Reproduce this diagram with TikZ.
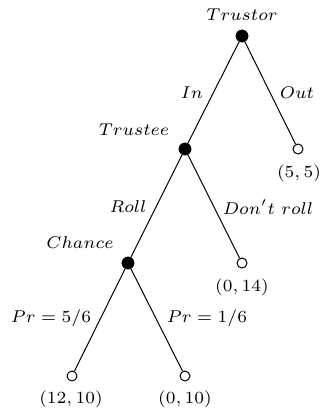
\documentclass[tikz,border=0pt]{standalone}
\begin{document}
\begin{tikzpicture}[x=0.5pt,y=-0.5pt,
  dec/.style={circle,fill=black,draw=black,inner sep=0pt,minimum size=6pt},
  term/.style={circle,fill=white,draw=black,line width=0.5pt,inner sep=0pt,minimum size=5pt},
  edge/.style={draw=black,line width=0.5pt},
  lbl/.style={inner sep=0pt,font=\fontsize{7}{8}\selectfont,scale=1.22,transform shape}]
\useasboundingbox (0,0) rectangle (320,412);
% decision nodes
\node[dec] (trustor) at (242,36) {};
\node[dec] (trustee) at (185,149) {};
\node[dec] (chance) at (128,263) {};
% terminals
\node[term] (out) at (298,149) {};
\node[term] (dont) at (242,263) {};
\node[term] (l1) at (72,376) {};
\node[term] (l2) at (185,376) {};
% edges
\draw[edge] (trustor) -- (trustee);
\draw[edge] (trustor) -- (out);
\draw[edge] (trustee) -- (chance);
\draw[edge] (trustee) -- (dont);
\draw[edge] (chance) -- (l1);
\draw[edge] (chance) -- (l2);
% player labels
\node[lbl] (tlab) at (242,15) {$Trustor$};
\node[lbl] (telab) at (134,130) {$Trustee$};
\node[lbl] (clab) at (80,243) {$Chance$};
% action labels
\node[lbl] (inlab) at (192,93) {$In$};
\node[lbl] (outlab) at (297,93) {$Out$};
\node[lbl] (rolllab) at (128,207) {$Roll$};
\node[lbl] (dontlab) at (268,207) {$Don't\ roll$};
\node[lbl] (p1lab) at (51,318) {$Pr=5/6$};
\node[lbl] (p2lab) at (207,318) {$Pr=1/6$};
% payoffs
\node[lbl] (pay1) at (299,173) {$(5,5)$};
\node[lbl] (pay2) at (242,287) {$(0,14)$};
\node[lbl] (pay3) at (71,399) {$(12,10)$};
\node[lbl] (pay4) at (185,399) {$(0,10)$};
\end{tikzpicture}
\end{document}
